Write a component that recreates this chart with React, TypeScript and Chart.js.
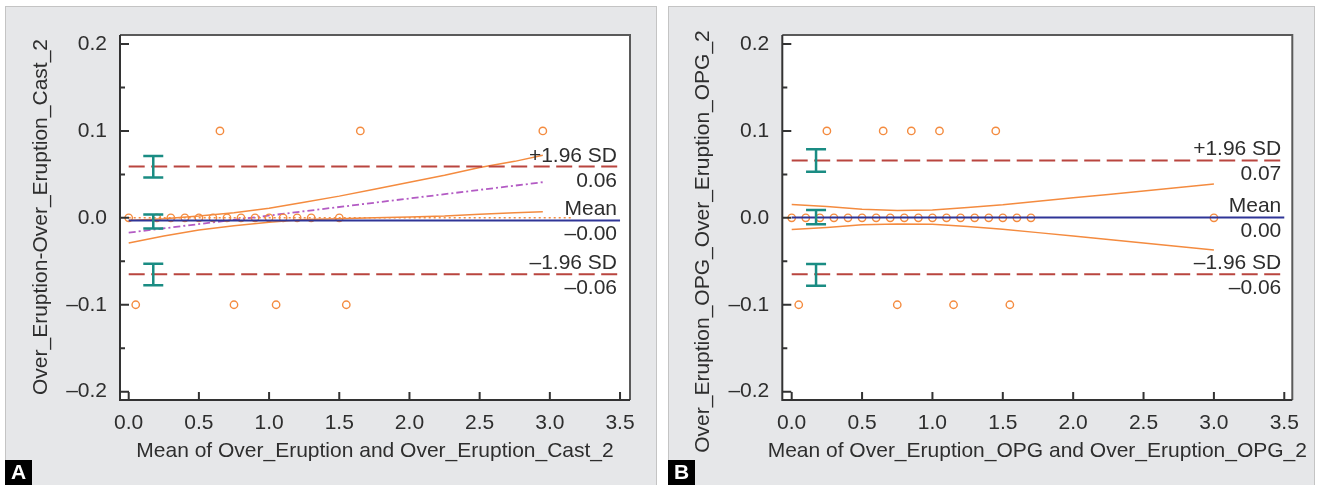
import React, { useEffect, useRef } from 'react';
import { Chart, registerables } from 'chart.js';

Chart.register(...registerables);

const FONT = "'Liberation Sans', Arial, Helvetica, sans-serif";

// ---------- shared axes ----------
const X_TICKS = [0, 0.5, 1, 1.5, 2, 2.5, 3, 3.5];
const X_TICK_LABELS = ['0.0', '0.5', '1.0', '1.5', '2.0', '2.5', '3.0', '3.5'];
const Y_TICKS = [-0.2, -0.1, 0, 0.1, 0.2];
const Y_TICK_LABELS = ['\u20130.2', '\u20130.1', '0.0', '0.1', '0.2'];
const Y_MINOR = [-0.15, -0.05, 0.05, 0.15];
const LINE_X = [0, 3.5];

// ---------- panel A data ----------
const A_LETTER = 'A';
const A_X_TITLE = 'Mean of Over_Eruption and Over_Eruption_Cast_2';
const A_Y_TITLE = 'Over_Eruption-Over_Eruption_Cast_2';
const A_PTS_X = [0, 0.2, 0.3, 0.4, 0.5, 0.6, 0.7, 0.8, 0.9, 1.0, 1.1, 1.2, 1.3, 1.5, 0.65, 1.65, 2.95, 0.05, 0.75, 1.05, 1.55];
const A_PTS_Y = [0, 0, 0, 0, 0, 0, 0, 0, 0, 0, 0, 0, 0, 0, 0.1, 0.1, 0.1, -0.1, -0.1, -0.1, -0.1];
const A_MEAN = -0.003;
const A_UPPER = 0.059;
const A_LOWER = -0.065;
const A_UPPER_TEXT = '0.06';
const A_MEAN_TEXT = '\u20130.00';
const A_LOWER_TEXT = '\u20130.06';
const A_CI_X = [0, 0.25, 0.5, 0.75, 1.0, 1.25, 1.5, 1.75, 2.0, 2.25, 2.5, 2.75, 2.95];
const A_CI_UPPER = [-0.003, -0.001, 0.002, 0.006, 0.011, 0.018, 0.025, 0.033, 0.041, 0.049, 0.058, 0.065, 0.072];
const A_CI_LOWER = [-0.029, -0.021, -0.014, -0.009, -0.005, -0.002, -0.001, 0.0, 0.001, 0.002, 0.004, 0.006, 0.007];
const A_REG_X = [0, 2.95];
const A_REG_Y = [-0.017, 0.041];
const A_EQ_X = [0, 3.15];
const A_EQ_Y = [0, 0];
const A_ERR_X = 0.175;
const A_ERR_LOW = [0.0464, -0.0123, -0.0775];
const A_ERR_HIGH = [0.0713, 0.0038, -0.0529];

// ---------- panel B data ----------
const B_LETTER = 'B';
const B_X_TITLE = 'Mean of Over_Eruption_OPG and Over_Eruption_OPG_2';
const B_Y_TITLE = 'Over_Eruption_OPG_Over_Eruption_OPG_2';
const B_PTS_X = [0, 0.1, 0.2, 0.3, 0.4, 0.5, 0.6, 0.7, 0.8, 0.9, 1.0, 1.1, 1.2, 1.3, 1.4, 1.5, 1.6, 1.7, 3.0, 0.25, 0.65, 0.85, 1.05, 1.45, 0.05, 0.75, 1.15, 1.55];
const B_PTS_Y = [0, 0, 0, 0, 0, 0, 0, 0, 0, 0, 0, 0, 0, 0, 0, 0, 0, 0, 0, 0.1, 0.1, 0.1, 0.1, 0.1, -0.1, -0.1, -0.1, -0.1];
const B_MEAN = 0.0005;
const B_UPPER = 0.066;
const B_LOWER = -0.065;
const B_UPPER_TEXT = '0.07';
const B_MEAN_TEXT = '0.00';
const B_LOWER_TEXT = '\u20130.06';
const B_CI_X = [0, 0.25, 0.5, 0.75, 1.0, 1.25, 1.5, 1.75, 2.0, 2.25, 2.5, 2.75, 3.0];
const B_CI_UPPER = [0.0155, 0.013, 0.010, 0.0085, 0.009, 0.012, 0.015, 0.019, 0.023, 0.027, 0.031, 0.035, 0.039];
const B_CI_LOWER = [-0.0135, -0.011, -0.008, -0.007, -0.0075, -0.010, -0.013, -0.017, -0.021, -0.025, -0.029, -0.033, -0.037];
const B_ERR_X = 0.173;
const B_ERR_LOW = [0.053, -0.0073, -0.078];
const B_ERR_HIGH = [0.079, 0.0089, -0.053];

const ORANGE = '#f48b3f';
const RED_DASH = '#b9453f';
const BLUE = '#2f3597';
const TEAL = '#1a8c83';
const PURPLE = '#b35bc4';
const TEXT = '#2e2e2e';

type Panel = {
  letter: string; xTitle: string; yTitle: string;
  ptsX: number[]; ptsY: number[];
  mean: number; upper: number; lower: number;
  upperText: string; meanText: string; lowerText: string;
  ciX: number[]; ciUp: number[]; ciLo: number[];
  regX?: number[]; regY?: number[]; eqX?: number[]; eqY?: number[];
  errX: number; errLow: number[]; errHigh: number[];
  left: number; width: number; panelX: number; panelW: number;
  plotLeft: number; plotRight: number; xMin: number; xMax: number;
  yTitleX: number; yTitleY: number;
};

const Y_MIN = -0.2096;
const Y_MAX = 0.2104;
const H = 485;
const PLOT_TOP = 35;
const PLOT_BOTTOM = 400;

const PANEL_A: Panel = {
  letter: A_LETTER, xTitle: A_X_TITLE, yTitle: A_Y_TITLE,
  ptsX: A_PTS_X, ptsY: A_PTS_Y, mean: A_MEAN, upper: A_UPPER, lower: A_LOWER,
  upperText: A_UPPER_TEXT, meanText: A_MEAN_TEXT, lowerText: A_LOWER_TEXT,
  ciX: A_CI_X, ciUp: A_CI_UPPER, ciLo: A_CI_LOWER,
  regX: A_REG_X, regY: A_REG_Y, eqX: A_EQ_X, eqY: A_EQ_Y,
  errX: A_ERR_X, errLow: A_ERR_LOW, errHigh: A_ERR_HIGH,
  left: 0, width: 660, panelX: 5, panelW: 652,
  plotLeft: 120, plotRight: 630, xMin: -0.062, xMax: 3.571,
  yTitleX: 46.7, yTitleY: 217,
};

const PANEL_B: Panel = {
  letter: B_LETTER, xTitle: B_X_TITLE, yTitle: B_Y_TITLE,
  ptsX: B_PTS_X, ptsY: B_PTS_Y, mean: B_MEAN, upper: B_UPPER, lower: B_LOWER,
  upperText: B_UPPER_TEXT, meanText: B_MEAN_TEXT, lowerText: B_LOWER_TEXT,
  ciX: B_CI_X, ciUp: B_CI_UPPER, ciLo: B_CI_LOWER,
  errX: B_ERR_X, errLow: B_ERR_LOW, errHigh: B_ERR_HIGH,
  left: 660, width: 658, panelX: 8, panelW: 647,
  plotLeft: 122.3, plotRight: 632.3, xMin: -0.0668, xMax: 3.557,
  yTitleX: 49, yTitleY: 241.5,
};

function pairs(xs: number[], ys: number[]) {
  return xs.map((x, i) => ({ x, y: ys[i] }));
}

function lineDs(data: any[], color: string, width: number, dash: number[] = []) {
  return {
    data, showLine: true, borderColor: color, borderWidth: width, borderDash: dash,
    pointRadius: 0, fill: false, tension: 0,
  };
}

function panelPlugin(p: Panel) {
  return {
    id: 'panelDeco' + p.letter,
    beforeDraw(chart: any) {
      const ctx = chart.ctx;
      const ca = chart.chartArea;
      ctx.save();
      ctx.fillStyle = '#ffffff';
      ctx.fillRect(0, 0, chart.width, chart.height);
      ctx.fillStyle = '#e6e7e9';
      ctx.fillRect(p.panelX, 6, p.panelW, H - 6);
      ctx.strokeStyle = '#c4c4c4';
      ctx.lineWidth = 1;
      ctx.strokeRect(p.panelX + 0.5, 6.5, p.panelW - 1, H);
      ctx.fillStyle = '#ffffff';
      ctx.fillRect(ca.left, ca.top, ca.right - ca.left, ca.bottom - ca.top);
      ctx.restore();
    },
    afterDatasetsDraw(chart: any) {
      const ctx = chart.ctx;
      const ca = chart.chartArea;
      const xs = chart.scales.x;
      const ys = chart.scales.y;
      ctx.save();
      // error bars
      ctx.strokeStyle = TEAL;
      ctx.lineWidth = 2.5;
      const ex = xs.getPixelForValue(p.errX);
      p.errLow.forEach((lo, i) => {
        const y1 = ys.getPixelForValue(lo);
        const y2 = ys.getPixelForValue(p.errHigh[i]);
        ctx.beginPath();
        ctx.moveTo(ex, y1); ctx.lineTo(ex, y2);
        ctx.moveTo(ex - 10, y1); ctx.lineTo(ex + 10, y1);
        ctx.moveTo(ex - 10, y2); ctx.lineTo(ex + 10, y2);
        ctx.stroke();
      });
      // frame
      ctx.lineWidth = 2;
      ctx.strokeStyle = '#5a5a5a';
      ctx.beginPath();
      ctx.moveTo(ca.left, ca.top); ctx.lineTo(ca.right, ca.top); ctx.lineTo(ca.right, ca.bottom);
      ctx.stroke();
      ctx.strokeStyle = '#333333';
      ctx.beginPath();
      ctx.moveTo(ca.left, ca.top); ctx.lineTo(ca.left, ca.bottom); ctx.lineTo(ca.right, ca.bottom);
      ctx.stroke();
      // inner ticks
      ctx.beginPath();
      Y_TICKS.forEach((v) => { const y = ys.getPixelForValue(v); ctx.moveTo(ca.left, y); ctx.lineTo(ca.left + 9, y); });
      Y_MINOR.forEach((v) => { const y = ys.getPixelForValue(v); ctx.moveTo(ca.left, y); ctx.lineTo(ca.left + 5, y); });
      X_TICKS.forEach((v) => { const x = xs.getPixelForValue(v); ctx.moveTo(x, ca.bottom); ctx.lineTo(x, ca.bottom - 8); });
      ctx.stroke();
      // limit labels
      ctx.fillStyle = TEXT;
      ctx.font = '21px ' + FONT;
      ctx.textAlign = 'right';
      ctx.textBaseline = 'alphabetic';
      const tx = xs.getPixelForValue(3.5) - 3;
      const labels: [number, string, string][] = [
        [p.upper, '+1.96 SD', p.upperText],
        [p.mean, 'Mean', p.meanText],
        [p.lower, '\u20131.96 SD', p.lowerText],
      ];
      labels.forEach(([v, a, b]) => {
        const y = ys.getPixelForValue(v);
        ctx.fillText(a, tx, y - 5);
        ctx.fillText(b, tx, y + 20);
      });
      // axis titles
      ctx.textAlign = 'center';
      ctx.fillText(p.xTitle, (ca.left + ca.right) / 2, 457);
      ctx.save();
      ctx.translate(p.yTitleX, p.yTitleY);
      ctx.rotate(-Math.PI / 2);
      ctx.fillText(p.yTitle, 0, 0);
      ctx.restore();
      // panel letter
      ctx.fillStyle = '#000000';
      ctx.fillRect(p.panelX, 460, 27, 25);
      ctx.fillStyle = '#ffffff';
      ctx.font = 'bold 21px ' + FONT;
      ctx.textAlign = 'center';
      ctx.textBaseline = 'middle';
      ctx.fillText(p.letter, p.panelX + 13.5, 473.5);
      ctx.restore();
    },
  };
}

function makeChart(canvas: HTMLCanvasElement, p: Panel) {
  const datasets: any[] = [];
  datasets.push(lineDs(LINE_X.map((x) => ({ x, y: p.mean })), BLUE, 2));
  datasets.push({
    data: pairs(p.ptsX, p.ptsY), showLine: false, pointStyle: 'circle', pointRadius: 3.7,
    pointBorderWidth: 1.4, borderColor: ORANGE, pointBorderColor: ORANGE,
    backgroundColor: 'rgba(0,0,0,0)', pointBackgroundColor: 'rgba(0,0,0,0)',
  });
  datasets.push(lineDs(LINE_X.map((x) => ({ x, y: p.upper })), RED_DASH, 2, [16, 6.5]));
  datasets.push(lineDs(LINE_X.map((x) => ({ x, y: p.lower })), RED_DASH, 2, [16, 6.5]));
  datasets.push(lineDs(pairs(p.ciX, p.ciUp), ORANGE, 1.5));
  datasets.push(lineDs(pairs(p.ciX, p.ciLo), ORANGE, 1.5));
  if (p.regX && p.regY) datasets.push(lineDs(pairs(p.regX, p.regY), PURPLE, 1.8, [7, 3, 2, 3]));
  if (p.eqX && p.eqY) datasets.push(lineDs(pairs(p.eqX, p.eqY), ORANGE, 1.5, [2, 3]));

  return new Chart(canvas, {
    type: 'scatter',
    data: { datasets },
    options: {
      animation: false,
      responsive: false,
      devicePixelRatio: 1,
      events: [],
      layout: { padding: { left: 0, right: p.width - p.plotRight, top: PLOT_TOP, bottom: 0 } },
      plugins: { legend: { display: false }, tooltip: { enabled: false }, title: { display: false } },
      scales: {
        x: {
          type: 'linear', position: 'bottom', min: p.xMin, max: p.xMax, bounds: 'data',
          grid: { display: false, drawTicks: false }, border: { display: false },
          ticks: {
            color: TEXT, font: { family: FONT, size: 21 }, padding: 11, maxRotation: 0, autoSkip: false,
            callback: (_v: any, i: number) => X_TICK_LABELS[i],
          },
          afterBuildTicks: (s: any) => { s.ticks = X_TICKS.map((v) => ({ value: v })); },
          afterFit: (s: any) => { s.height = H - PLOT_BOTTOM; },
        },
        y: {
          type: 'linear', position: 'left', min: Y_MIN, max: Y_MAX, bounds: 'data',
          grid: { display: false, drawTicks: false }, border: { display: false },
          ticks: {
            color: TEXT, font: { family: FONT, size: 21 }, padding: 13, autoSkip: false,
            callback: (_v: any, i: number) => Y_TICK_LABELS[i],
          },
          afterBuildTicks: (s: any) => { s.ticks = Y_TICKS.map((v) => ({ value: v })); },
          afterFit: (s: any) => { s.width = p.plotLeft; },
        },
      },
    } as any,
    plugins: [panelPlugin(p)],
  });
}

function PanelChart({ panel }: { panel: Panel }) {
  const ref = useRef<HTMLCanvasElement | null>(null);
  useEffect(() => {
    if (!ref.current) return;
    const chart = makeChart(ref.current, panel);
    return () => chart.destroy();
  }, [panel]);
  return (
    <canvas
      ref={ref}
      width={panel.width}
      height={H}
      style={{ position: 'absolute', left: panel.left, top: 0, width: panel.width, height: H, display: 'block' }}
    />
  );
}

export default function App() {
  return (
    <div style={{ position: 'fixed', left: 0, top: 0, width: 1318, height: H, background: '#ffffff', overflow: 'hidden' }}>
      <PanelChart panel={PANEL_A} />
      <PanelChart panel={PANEL_B} />
    </div>
  );
}
